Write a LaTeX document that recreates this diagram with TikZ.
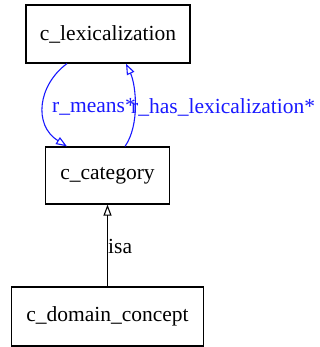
\documentclass[tikz,border=0pt]{standalone}
\usepackage{fontspec}
\setmainfont{Liberation Serif}
\usetikzlibrary{arrows.meta}
\definecolor{edgeblue}{RGB}{25,25,255}
\begin{document}
\begin{tikzpicture}[x=1pt,y=1pt,
  box/.style={draw=black,line width=1.2pt,inner sep=0pt,font=\fontsize{21.5}{24}\selectfont},
  lbl/.style={inner sep=0pt,font=\fontsize{21.5}{24}\selectfont,anchor=west},
  tip/.style={-{Triangle[open,length=11pt,width=8pt]}},
  blueedge/.style={draw=edgeblue,line width=1.1pt,tip}
]
\useasboundingbox (0,0) rectangle (320,-347);
\node[box,minimum width=164pt,minimum height=58pt] (lex) at (108,-34) {c\_lexicalization};
\node[box,minimum width=124pt,minimum height=57pt] (cat) at (107.5,-175.5) {c\_category};
\node[box,minimum width=192pt,minimum height=59pt] (dom) at (107.5,-316.5) {c\_domain\_concept};
\draw[blueedge] ([xshift=-41pt]lex.south) .. controls (38,-85) and (33,-125) .. ([xshift=-40.5pt]cat.north);
\draw[blueedge] ([xshift=17.5pt]cat.north) .. controls (140,-125) and (136,-85) .. ([xshift=18pt]lex.south);
\node[lbl,text=edgeblue] (l1) at (52,-107) {r\_means*};
\node[lbl,text=edgeblue] (l2) at (131,-107) {r\_has\_lexicalization*};
\draw[black,line width=1.1pt,tip] (dom.north) -- (cat.south);
\node[lbl] (l3) at (108,-246) {isa};
\end{tikzpicture}
\end{document}
